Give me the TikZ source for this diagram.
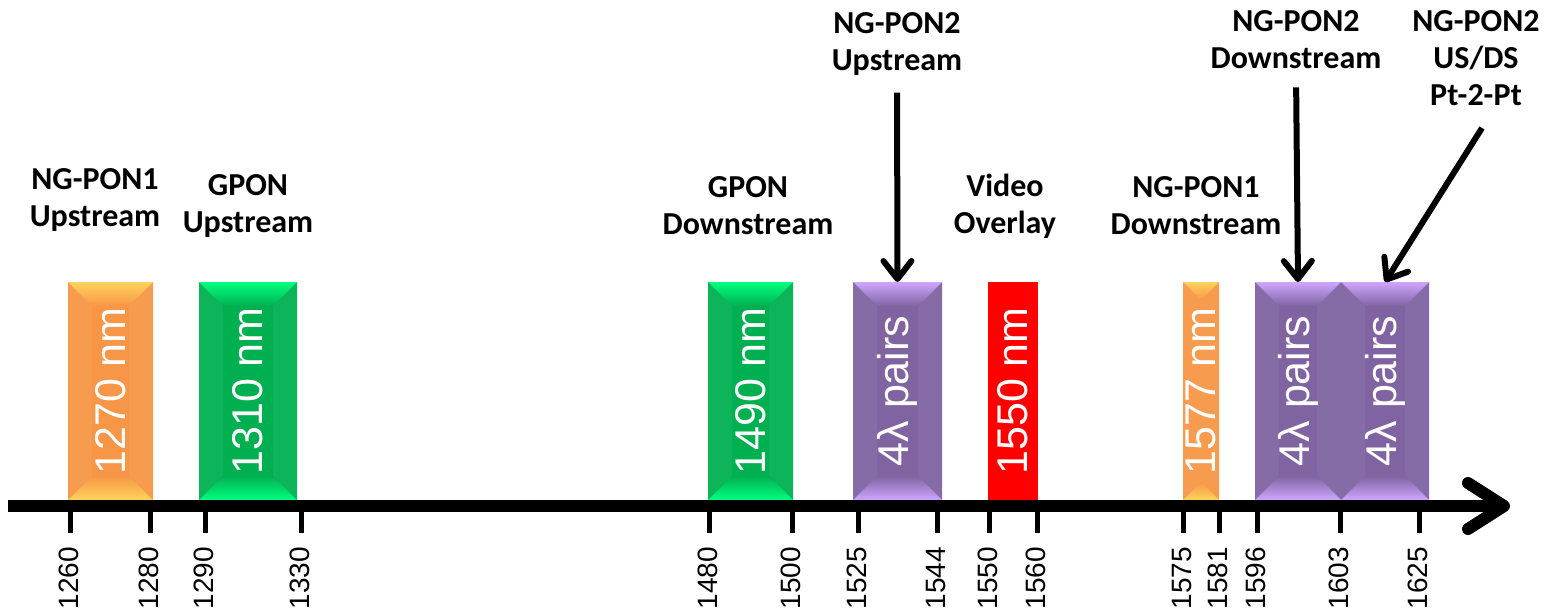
\documentclass[tikz,border=0pt]{standalone}
\usepackage{fontspec}
\setmainfont{Liberation Sans}
\newfontfamily\bandfont{Carlito}
\usepackage{tikz}
\usetikzlibrary{arrows.meta}

\definecolor{wlorange}{HTML}{F79646}
\definecolor{wlorangelt}{HTML}{FFD45C}
\definecolor{wlgreen}{HTML}{00B050}
\definecolor{wlgreenlt}{HTML}{00FF80}
\definecolor{wlpurple}{HTML}{8064A2}
\definecolor{wlpurplelt}{HTML}{CFA6FF}
\definecolor{wlred}{HTML}{FF0000}

% name, left x, right x, base colour, light colour, text
\newcommand{\wlbox}[6]{%
  \pgfmathsetmacro\bd{min(24,(#3-#2)/2)}%
  \node[wlband, fill=#4, minimum width={(#3-#2)*1pt}] (#1) at ({(#2+#3)/2},391) {};
  \fill[#4!95!white] (#2,282) -- (#2+\bd,282+\bd) -- (#2+\bd,500-\bd) -- (#2,500) -- cycle;
  \fill[#4!95!white] (#3,282) -- (#3-\bd,282+\bd) -- (#3-\bd,500-\bd) -- (#3,500) -- cycle;
  \shade[top color=#5, bottom color=#4] (#2,282) -- (#3,282) -- (#3-\bd,282+\bd) -- (#2+\bd,282+\bd) -- cycle;
  \shade[top color=#4, bottom color=#5] (#2,500) -- (#3,500) -- (#3-\bd,500-\bd) -- (#2+\bd,500-\bd) -- cycle;
  \node[wltext] (#1t) at (#1.center) {#6};
}

\begin{document}
\begin{tikzpicture}[x=1pt, y=-1pt,
  wlband/.style={minimum height=218pt, inner sep=0pt, outer sep=0pt},
  wltext/.style={text=white, rotate=90, inner sep=0pt, font=\fontsize{43}{43}\selectfont},
  bandlbl/.style={align=center, inner sep=3pt, font=\bandfont\bfseries\fontsize{32}{37}\selectfont},
  ticklbl/.style={rotate=90, anchor=east, inner sep=0pt, font=\fontsize{28}{28}\selectfont},
  tick/.style={line width=5pt},
  axis/.style={line width=12pt, -{Straight Barb[round, length=36pt, width=46pt]}},
  ptr/.style={line width=6pt, -{Straight Barb[round, length=18pt, width=28pt]}}]
\useasboundingbox (0,0) rectangle (1553,613);

\wlbox{b1270}{68}{153}{wlorange}{wlorangelt}{1270 nm}
\wlbox{b1310}{199}{297}{wlgreen}{wlgreenlt}{1310 nm}
\wlbox{b1490}{708}{793}{wlgreen}{wlgreenlt}{1490 nm}
\wlbox{bngup}{853}{942}{wlpurple}{wlpurplelt}{4λ pairs}
\node[wlband, fill=wlred, minimum width=50pt] (b1550) at (1013,391) {};
\node[wltext] (b1550t) at (b1550.center) {1550 nm};
\wlbox{b1577}{1183}{1219}{wlorange}{wlorangelt}{1577 nm}
\wlbox{bngdown}{1255}{1341}{wlpurple}{wlpurplelt}{4λ pairs}
\wlbox{bptpt}{1341}{1429}{wlpurple}{wlpurplelt}{4λ pairs}

\coordinate (axstart) at (8,506);
\coordinate (axend) at (1510,506);
\draw[axis] (axstart) -- (axend);

\foreach \x/\v in {70/1260, 150/1280, 205/1290, 301/1330, 709/1480, 792/1500,
  858/1525, 937/1544, 989/1550, 1037/1560, 1183/1575, 1219/1581,
  1257/1596, 1340/1603, 1419/1625}{
  \draw[tick] (\x,506) -- (\x,533);
  \node[ticklbl] (t\v) at (\x-1,547) {\v};
}

\node[bandlbl] (ng1up) at (95,200) {NG-PON1\\Upstream};
\node[bandlbl] (gpup) at (248,206) {GPON\\Upstream};
\node[bandlbl] (gpdown) at (748,206) {GPON\\Downstream};
\node[bandlbl] (ng2up) at (897,44) {NG-PON2\\Upstream};
\node[bandlbl] (video) at (1005,206) {Video\\Overlay};
\node[bandlbl] (ng1down) at (1196,206) {NG-PON1\\Downstream};
\node[bandlbl] (ng2down) at (1296,40) {NG-PON2\\Downstream};
\node[bandlbl] (ptpt) at (1476,58) {NG-PON2\\US/DS\\Pt-2-Pt};

\coordinate (ptstart) at (1482,128);
\draw[ptr, shorten <=14pt] (ng2up.south) -- (bngup.north);
\draw[ptr, shorten <=15pt] (ng2down.south) -- (bngdown.north);
\draw[ptr] (ptstart) -- (bptpt.north);
\end{tikzpicture}
\end{document}
